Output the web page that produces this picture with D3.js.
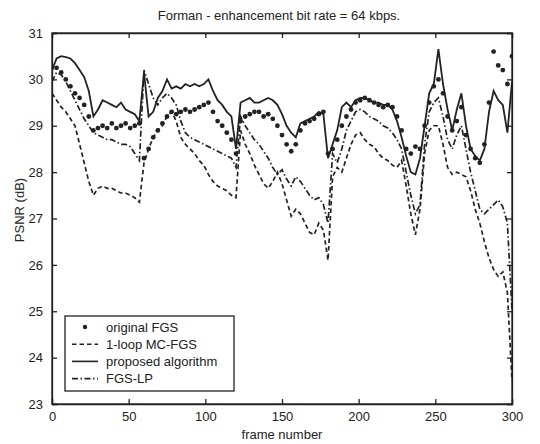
<!DOCTYPE html>
<html>
<head>
<meta charset="utf-8">
<script src="https://cdn.jsdelivr.net/npm/d3@7"></script>
<style>
  body { margin: 0; background: #fff; }
  svg { display: block; font-family: "Liberation Sans", Arial, sans-serif; }
</style>
</head>
<body>
<div id="chart"></div>
<script>
// frame numbers (every 3rd frame)
const frames = [
  0, 3, 6, 9, 12, 15, 18, 21, 24, 27,
  30, 33, 36, 39, 42, 45, 48, 51, 54, 57,
  60, 63, 66, 69, 72, 75, 78, 81, 84, 87,
  90, 93, 96, 99, 102, 105, 108, 111, 114, 117,
  120, 123, 126, 129, 132, 135, 138, 141, 144, 147,
  150, 153, 156, 159, 162, 165, 168, 171, 174, 177,
  180, 183, 186, 189, 192, 195, 198, 201, 204, 207,
  210, 213, 216, 219, 222, 225, 228, 231, 234, 237,
  240, 243, 246, 249, 252, 255, 258, 261, 264, 267,
  270, 273, 276, 279, 282, 285, 288, 291, 294, 297,
  300
];

const originalFGS = [
  30.25, 30.25, 30.15, 30.0, 29.85, 29.7, 29.6, 29.45, 29.2, 28.9,
  28.95, 29.0, 28.95, 29.05, 28.95, 29.0, 29.05, 28.95, 29.0, 29.05,
  28.3, 28.5, 28.75, 28.9, 29.05, 29.2, 29.3, 29.25, 29.3, 29.35,
  29.3, 29.35, 29.4, 29.45, 29.5, 29.3, 29.1, 29.0, 28.85, 28.7,
  28.4, 29.1, 29.2, 29.25, 29.3, 29.3, 29.2, 29.25, 29.15, 29.0,
  28.8, 28.6, 28.45, 28.6, 28.9, 29.05, 29.1, 29.15, 29.25, 29.3,
  28.4, 28.5, 28.7, 29.0, 29.2, 29.35, 29.5, 29.55, 29.6, 29.55,
  29.5, 29.45, 29.4, 29.45, 29.4, 29.2, 28.9, 28.5, 28.4, 28.55,
  28.5, 29.0, 29.5, 29.85, 30.0, 29.7, 29.2, 28.9, 29.1, 29.4,
  28.8, 28.5, 28.3, 28.2, 28.6, 29.5, 30.6, 30.3, 30.2, 29.9,
  30.5
];

const oneLoopMC = [
  29.7, 29.55, 29.4, 29.3, 29.15, 29.0, 28.6, 28.2, 27.8, 27.5,
  27.65, 27.7, 27.65, 27.65, 27.6, 27.55, 27.55, 27.5, 27.45, 27.35,
  28.2, 28.5, 28.75, 28.9, 29.0, 29.2, 29.3, 29.1, 28.75, 28.6,
  28.5, 28.4, 28.25, 28.15, 27.95, 27.8, 27.7, 27.65, 27.6, 27.5,
  27.45, 28.9, 28.6, 28.4, 28.15, 27.95, 27.75, 27.65, 27.8, 28.0,
  27.75, 27.4, 27.05, 27.2, 27.1, 26.9, 26.7, 26.65, 26.9, 26.75,
  26.1, 27.9, 28.1, 28.0, 28.3, 28.6, 28.8, 28.85, 28.7, 28.6,
  28.55, 28.4, 28.3, 28.25, 28.15, 28.1, 28.25, 27.7, 27.1, 26.65,
  27.2, 28.4, 28.9, 29.0, 29.0, 28.6, 28.1, 27.95, 28.0, 27.95,
  27.9, 27.6, 27.2, 26.9, 26.5, 26.15, 25.9, 25.75, 25.85, 25.4,
  23.5
];

const proposed = [
  30.2, 30.45, 30.5, 30.48, 30.45, 30.35, 30.2, 30.05, 29.75, 29.2,
  29.35, 29.55, 29.5, 29.45, 29.4, 29.5, 29.35, 29.3, 29.25, 29.1,
  30.15, 29.2, 29.3, 29.6, 29.75, 30.0, 29.8, 29.85, 29.8, 29.9,
  29.85, 29.9, 29.85, 29.9, 30.0, 29.75, 29.55, 29.45, 29.3, 29.2,
  28.5, 29.5, 29.55, 29.6, 29.5, 29.5, 29.55, 29.6, 29.55, 29.45,
  29.25, 29.0, 28.85, 28.75, 29.05, 29.1, 29.15, 29.2, 29.3, 29.25,
  28.3, 28.6, 28.9, 29.4, 29.5, 29.4, 29.55, 29.6, 29.6, 29.55,
  29.5, 29.5, 29.45, 29.45, 29.35, 29.1, 28.75, 28.35, 28.0, 27.95,
  28.3, 29.0, 29.7, 29.9, 30.65, 29.9, 29.35, 28.9, 29.35, 29.7,
  29.0, 28.5, 28.35, 28.25, 28.5, 29.3, 29.75, 29.55, 29.45, 28.85,
  29.95
];

const fgsLP = [
  29.95, 30.15, 30.1, 29.95, 29.75, 29.55, 29.35, 29.15, 29.0, 28.85,
  28.8, 28.75, 28.7, 28.7, 28.65, 28.6, 28.6, 28.55, 28.4, 28.25,
  30.2, 29.9, 29.6, 29.45, 29.6, 29.7, 29.6, 29.45, 29.1, 28.85,
  28.75, 28.7, 28.65, 28.6, 28.55, 28.5, 28.45, 28.4, 28.35, 28.3,
  28.1, 29.2, 29.0, 28.85, 28.7, 28.6, 28.45, 28.3, 28.1, 27.95,
  28.05, 27.85, 27.7, 27.9, 27.8, 27.65, 27.5, 27.4, 27.45, 27.3,
  26.9, 28.4, 28.2, 28.5, 28.9, 29.1, 29.3, 29.35, 29.3, 29.2,
  29.15, 29.1, 29.0, 28.95, 28.85, 28.7, 28.5, 28.0, 27.5, 27.1,
  27.3, 28.6, 29.3, 29.5, 29.6, 29.2, 28.7, 28.5, 28.8, 29.0,
  28.5, 28.0, 27.6, 27.2, 27.1, 27.2, 27.3, 27.4, 27.25, 26.9,
  25.0
];

const xTicks = [0, 50, 100, 150, 200, 250, 300];
const yTicks = [23, 24, 25, 26, 27, 28, 29, 30, 31];
const legendLabels = ['original FGS', '1-loop MC-FGS', 'proposed algorithm', 'FGS-LP'];

const W = 540, H = 444;
const margin = { top: 33, right: 28, bottom: 40, left: 52 };
const width = W - margin.left - margin.right;
const height = H - margin.top - margin.bottom;
const ink = '#222';

const svg = d3.select('#chart').append('svg')
  .attr('width', W)
  .attr('height', H);

const g = svg.append('g')
  .attr('transform', `translate(${margin.left},${margin.top})`);

const x = d3.scaleLinear().domain([0, 300]).range([0, width]);
const y = d3.scaleLinear().domain([23, 31]).range([height, 0]);

// axes with inward ticks on all four sides (matlab box)
const tickLen = 5;
g.append('g')
  .attr('transform', `translate(0,${height})`)
  .call(d3.axisBottom(x).tickValues(xTicks).tickSize(-tickLen).tickPadding(8));
g.append('g')
  .call(d3.axisLeft(y).tickValues(yTicks).tickSize(-tickLen).tickPadding(9));
g.append('g')
  .call(d3.axisTop(x).tickValues(xTicks).tickSize(-tickLen).tickFormat(''));
g.append('g')
  .attr('transform', `translate(${width},0)`)
  .call(d3.axisRight(y).tickValues(yTicks).tickSize(-tickLen).tickFormat(''));

g.selectAll('.domain').attr('stroke', ink).attr('stroke-width', 1.3);
g.selectAll('.tick line').attr('stroke', ink).attr('stroke-width', 1.3);
g.selectAll('.tick text')
  .attr('fill', ink)
  .style('font-size', '13px');

// series
g.append('clipPath').attr('id', 'plot-clip')
  .append('rect').attr('width', width).attr('height', height);

const plot = g.append('g').attr('clip-path', 'url(#plot-clip)');

const line = d3.line()
  .x((d, i) => x(frames[i]))
  .y(d => y(d));

plot.append('path')
  .datum(oneLoopMC)
  .attr('d', line)
  .attr('fill', 'none')
  .attr('stroke', ink)
  .attr('stroke-width', 1.7)
  .attr('stroke-dasharray', '4.5,3');

plot.append('path')
  .datum(fgsLP)
  .attr('d', line)
  .attr('fill', 'none')
  .attr('stroke', ink)
  .attr('stroke-width', 1.7)
  .attr('stroke-dasharray', '6,2.5,1.5,2.5');

plot.append('path')
  .datum(proposed)
  .attr('d', line)
  .attr('fill', 'none')
  .attr('stroke', ink)
  .attr('stroke-width', 1.8);

plot.selectAll('.dot')
  .data(originalFGS)
  .enter()
  .append('circle')
  .attr('class', 'dot')
  .attr('cx', (d, i) => x(frames[i]))
  .attr('cy', d => y(d))
  .attr('r', 2.4)
  .attr('fill', ink);

g.append('rect')
  .attr('width', width)
  .attr('height', height)
  .attr('fill', 'none')
  .attr('stroke', ink)
  .attr('stroke-width', 1.3);

// legend
const legend = g.append('g').attr('transform', 'translate(13,283)');
legend.append('rect')
  .attr('width', 169)
  .attr('height', 75)
  .attr('fill', '#fff')
  .attr('stroke', ink)
  .attr('stroke-width', 1.3);

const styles = [
  { type: 'dot' },
  { type: 'line', dash: '4.5,3' },
  { type: 'line', dash: null },
  { type: 'line', dash: '6,2.5,1.5,2.5' }
];

legendLabels.forEach((label, i) => {
  const ly = 11 + i * 17.2;
  const s = styles[i];
  if (s.type === 'dot') {
    legend.append('circle')
      .attr('cx', 20).attr('cy', ly).attr('r', 2.2).attr('fill', ink);
  } else {
    legend.append('line')
      .attr('x1', 7).attr('x2', 33)
      .attr('y1', ly).attr('y2', ly)
      .attr('stroke', ink)
      .attr('stroke-width', 1.6)
      .attr('stroke-dasharray', s.dash);
  }
  legend.append('text')
    .attr('x', 41)
    .attr('y', ly)
    .attr('dy', '0.35em')
    .attr('fill', ink)
    .style('font-size', '13px')
    .text(label);
});

// titles
svg.append('text')
  .attr('x', 279)
  .attr('y', 20)
  .attr('text-anchor', 'middle')
  .attr('fill', ink)
  .style('font-size', '13px')
  .text('Forman - enhancement bit rate = 64 kbps.');

svg.append('text')
  .attr('x', 282)
  .attr('y', 439)
  .attr('text-anchor', 'middle')
  .attr('fill', ink)
  .style('font-size', '13px')
  .text('frame number');

svg.append('text')
  .attr('transform', 'rotate(-90)')
  .attr('x', -210)
  .attr('y', 24)
  .attr('text-anchor', 'middle')
  .attr('fill', ink)
  .style('font-size', '13px')
  .text('PSNR (dB)');
</script>
</body>
</html>
